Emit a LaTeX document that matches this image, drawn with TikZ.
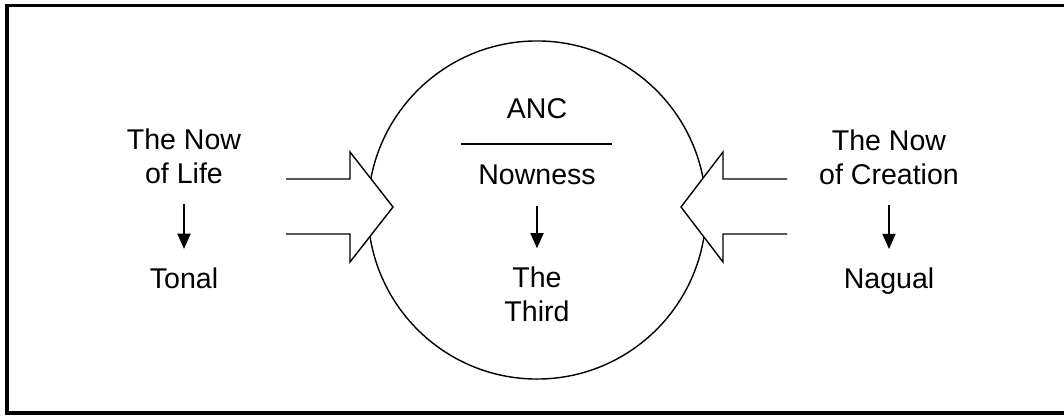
\documentclass[tikz,border=0pt]{standalone}
\usepackage{fontspec}
\setmainfont{Liberation Sans}
\usetikzlibrary{arrows.meta}

\begin{document}
\begin{tikzpicture}[x=0.025cm, y=-0.025cm, line width=1pt,
    txt/.style={inner sep=0pt, align=center, font=\fontsize{20.3}{24.2}\selectfont},
    down/.style={-{Triangle[width=0.33cm,length=0.38cm]}, shorten <=0.5cm, shorten >=0.45cm},
    frame/.style={line width=2.5pt}]
				\definecolor{color1}{gray}{0.} %% lines
				\useasboundingbox (0,0) rectangle (1064,415);
				%% Frame ------
				\draw[frame, color1] (1064,5.5) -- (7,5.5) -- (7,412.8) -- (1064,412.8);
				%% Circle ------
				\node[circle, draw=color1, inner sep=0pt, minimum size=8.45cm] (ring) at (537,210) {};
				%% Block arrows ------
				\draw[color1, fill=white] (286,179) -- (350,179) -- (350,152) -- (393,207) -- (350,262) -- (350,234) -- (286,234);
				\draw[color1, fill=white] (787,179) -- (723,179) -- (723,152) -- (681,207) -- (723,262) -- (723,234) -- (787,234);
				%% Nodes ------
				\node[txt] (life) at (184,156) {The Now\\of Life};
				\node[txt] (tonal) at (184,278) {Tonal};
				\node[txt] (anc) at (537,108.5) {ANC};
				\node[txt] (nowness) at (537,175) {Nowness};
				\node[txt] (third) at (537,294.5) {The\\Third};
				\node[txt] (creation) at (889,157) {The Now\\of Creation};
				\node[txt] (nagual) at (889,281) {Nagual};
				\draw[color1] (461,144) -- (612,144);
				%% Edges ---------
				\draw[down, color1] (life) -- (tonal);
				\draw[down, color1] (nowness) -- (third);
				\draw[down, color1] (creation) -- (nagual);
			\end{tikzpicture}
\end{document}
